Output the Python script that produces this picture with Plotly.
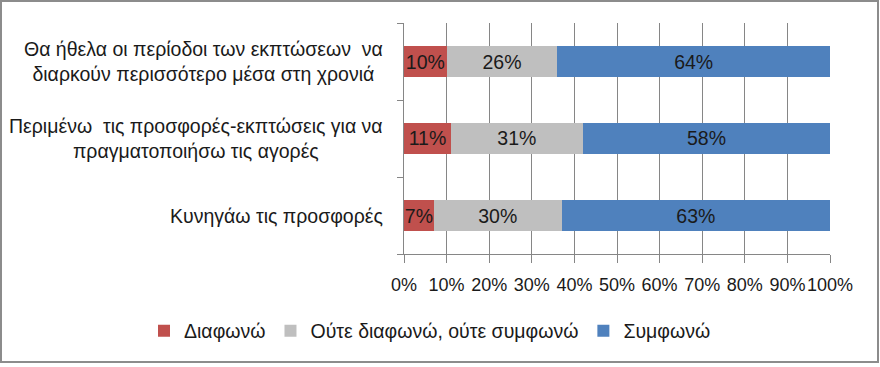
import plotly.graph_objects as go

categories = [
    "Θα ήθελα οι περίοδοι των εκπτώσεων  να<br>διαρκούν περισσότερο μέσα στη χρονιά",
    "Περιμένω  τις προσφορές-εκπτώσεις για να<br>πραγματοποιήσω τις αγορές",
    "Κυνηγάω τις προσφορές",
]
series_names = ["Διαφωνώ", "Ούτε διαφωνώ, ούτε συμφωνώ", "Συμφωνώ"]
disagree = [10, 11, 7]
neutral = [26, 31, 30]
agree = [64, 58, 63]
series_values = [disagree, neutral, agree]
colors = ["#C0504D", "#BFBFBF", "#4F81BD"]

FONT = "Liberation Sans, Arial, sans-serif"
FS = 19.5
TICK_FS = 18
W, H = 880, 367
ML, MR, MT, MB = 404, 50, 23, 113
pos = list(range(len(categories)))

fig = go.Figure()
for name, vals, col in zip(series_names, series_values, colors):
    fig.add_trace(go.Bar(
        y=pos, x=vals, name=name, orientation="h",
        marker=dict(color=col, line=dict(width=0)),
        text=[f"{v}%" for v in vals], textposition="inside", textangle=0,
        insidetextanchor="middle", constraintext="none",
        textfont=dict(family=FONT, size=FS, color="#1a1a1a"),
        hoverinfo="skip",
    ))

for i, c in enumerate(categories):
    fig.add_annotation(text=c, x=0, xref="paper", xanchor="right", xshift=-19,
                       y=i, yref="y", showarrow=False, align="center",
                       font=dict(family=FONT, size=FS, color="#1a1a1a"))

pw = W - ML - MR
ph = H - MT - MB
def px_x(p):
    return (p - ML) / pw
def px_y(p):
    return (H - MB - p) / ph
fig.add_shape(type="rect", xref="paper", yref="paper",
              x0=px_x(1), x1=px_x(878), y0=px_y(362), y1=px_y(1),
              line=dict(color="#8c8c8c", width=2), fillcolor="rgba(0,0,0,0)", layer="below")

fig.update_layout(
    width=W, height=H, barmode="stack", bargap=0.61,
    margin=dict(l=ML, r=MR, t=MT, b=MB, autoexpand=False),
    paper_bgcolor="white", plot_bgcolor="white",
    font=dict(family=FONT, size=FS, color="#1a1a1a"),
    uniformtext=dict(minsize=FS, mode="show"),
    legend=dict(orientation="h", xref="paper", yref="paper",
                x=px_x(144), xanchor="left", y=px_y(331), yanchor="middle",
                font=dict(family=FONT, size=FS, color="#1a1a1a"),
                itemwidth=30, traceorder="normal"),
    showlegend=True,
)
fig.update_xaxes(range=[0, 100], dtick=10, tick0=0, ticksuffix="%", tickangle=0,
                 showgrid=True, gridcolor="#868686", gridwidth=1,
                 showline=True, linecolor="#868686", linewidth=1,
                 ticks="outside", ticklen=8, tickcolor="#868686",
                 ticklabelstandoff=6,
                 tickfont=dict(family=FONT, size=TICK_FS, color="#1a1a1a"),
                 zeroline=False, fixedrange=True)
fig.update_yaxes(range=[len(categories) - 0.5, -0.5], tick0=-0.5, dtick=1,
                 showticklabels=False, showgrid=False, zeroline=False,
                 showline=True, linecolor="#868686", linewidth=1,
                 ticks="outside", ticklen=6, tickcolor="#868686", fixedrange=True)

fig.write_html("out.html", config={"displayModeBar": False},
               post_script="document.body.style.margin='0';")
